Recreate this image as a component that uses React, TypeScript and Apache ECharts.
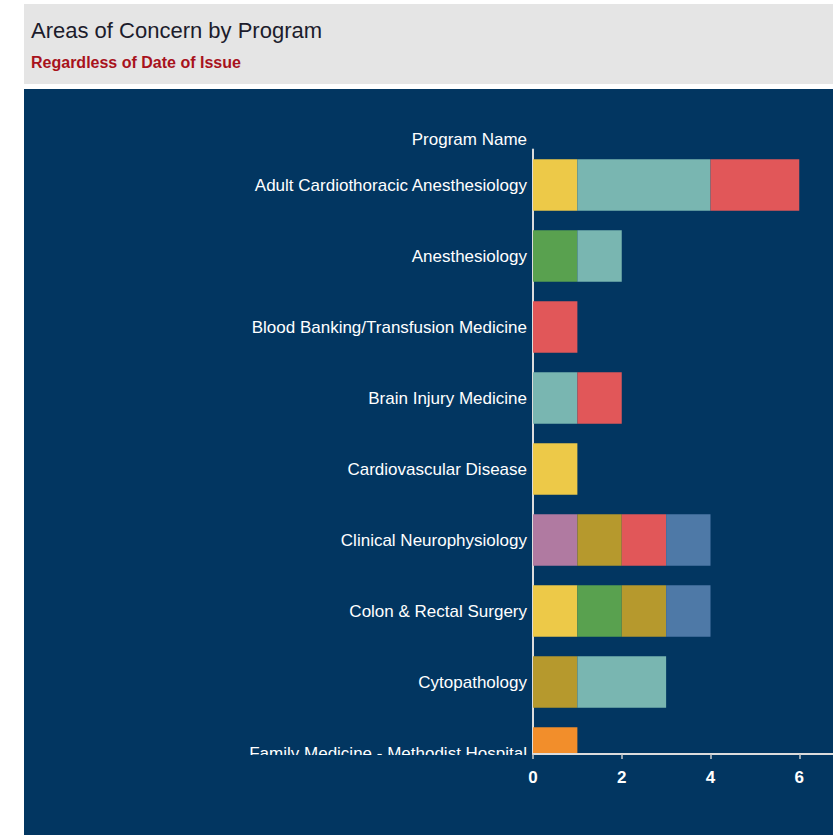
import React, { useEffect, useRef } from "react";
import * as echarts from "echarts";

const categories = [
  "Adult Cardiothoracic Anesthesiology",
  "Anesthesiology",
  "Blood Banking/Transfusion Medicine",
  "Brain Injury Medicine",
  "Cardiovascular Disease",
  "Clinical Neurophysiology",
  "Colon & Rectal Surgery",
  "Cytopathology",
  "Family Medicine - Methodist Hospital",
];

const titleText = "Areas of Concern by Program";
const subtitleText = "Regardless of Date of Issue";
const yAxisTitle = "Program Name";

// stacked segments, one array per area-of-concern colour
const concernYellow = [1, null, null, null, 1, null, 1, null, null];
const concernPink = [null, null, null, null, null, 1, null, null, null];
const concernGreen = [null, 1, null, null, null, null, 1, null, null];
const concernOlive = [null, null, null, null, null, 1, 1, 1, null];
const concernTeal = [3, 1, null, 1, null, null, null, 2, null];
const concernRed = [2, null, 1, 1, null, 1, null, null, null];
const concernBlue = [null, null, null, null, null, 1, 1, null, null];
const concernOrange = [null, null, null, null, null, null, null, null, 1];

const seriesList = [
  { name: "Concern A", color: "#edc948", data: concernYellow },
  { name: "Concern B", color: "#b07aa1", data: concernPink },
  { name: "Concern C", color: "#59a14f", data: concernGreen },
  { name: "Concern D", color: "#b6992d", data: concernOlive },
  { name: "Concern E", color: "#79b6b1", data: concernTeal },
  { name: "Concern F", color: "#e15759", data: concernRed },
  { name: "Concern G", color: "#4e79a7", data: concernBlue },
  { name: "Concern H", color: "#f28e2b", data: concernOrange },
];

const xTicks = [0, 2, 4, 6, 8];

const NAVY = "#023661";
const FONT = "'Liberation Sans', Arial, sans-serif";

export default function App() {
  const ref = useRef<HTMLDivElement>(null);

  useEffect(() => {
    if (!ref.current) return;
    const chart = echarts.init(ref.current, null, { renderer: "svg" });
    const xMin = xTicks[0];
    const xMax = xTicks[xTicks.length - 1];
    const xStep = xTicks[1] - xTicks[0];

    chart.setOption({
      animation: false,
      backgroundColor: "#ffffff",
      title: [
        {
          text: titleText,
          left: 31,
          top: 19,
          padding: 0,
          textStyle: { fontFamily: FONT, fontSize: 22, fontWeight: "normal", color: "#1c1c2c" },
        },
        {
          text: subtitleText,
          left: 31,
          top: 54,
          padding: 0,
          textStyle: { fontFamily: FONT, fontSize: 16, fontWeight: "bold", color: "#a8121c" },
        },
      ],
      graphic: [
        { type: "rect", z: -10, shape: { x: 24, y: 4, width: 809, height: 80 }, style: { fill: "#e5e5e5" } },
        { type: "rect", z: -10, shape: { x: 24, y: 89, width: 809, height: 746 }, style: { fill: NAVY } },
        { type: "rect", z: 50, shape: { x: 24, y: 755, width: 809, height: 80 }, style: { fill: NAVY } },
        {
          type: "text",
          z: 55,
          x: 527,
          y: 139,
          style: {
            text: yAxisTitle,
            fill: "#ffffff",
            font: `17px ${FONT}`,
            align: "right",
            verticalAlign: "middle",
          },
        },
      ],
      grid: [
        { left: 533, top: 149.5, width: 355, height: 639, containLabel: false, outerBoundsMode: "none" },
        { left: 533, top: 700, width: 355, height: 54, containLabel: false, outerBoundsMode: "none" },
      ],
      xAxis: [
        { type: "value", gridIndex: 0, min: xMin, max: xMax, interval: xStep, show: false },
        {
          type: "value",
          gridIndex: 1,
          min: xMin,
          max: xMax,
          interval: xStep,
          z: 60,
          axisLine: { show: true, lineStyle: { color: "#dcdcdc", width: 2 } },
          axisTick: { show: true, length: 5, lineStyle: { color: "#c8c8c8", width: 1.5 } },
          splitLine: { show: false },
          axisLabel: {
            color: "#ffffff",
            fontFamily: FONT,
            fontSize: 17,
            fontWeight: "bold",
            margin: 15,
            showMaxLabel: false,
          },
        },
      ],
      yAxis: [
        {
          type: "category",
          gridIndex: 0,
          data: categories,
          inverse: true,
          axisLine: { show: true, lineStyle: { color: "#dcdcdc", width: 2 } },
          axisTick: { show: false },
          splitLine: { show: false },
          axisLabel: { color: "#ffffff", fontFamily: FONT, fontSize: 17, margin: 6 },
        },
        { type: "value", gridIndex: 1, show: false },
      ],
      series: seriesList.map((s) => ({
        name: s.name,
        type: "bar",
        stack: "total",
        xAxisIndex: 0,
        yAxisIndex: 0,
        barCategoryGap: "27.5%",
        itemStyle: { color: s.color },
        data: s.data,
      })),
    });

    return () => chart.dispose();
  }, []);

  return (
    <div
      ref={ref}
      style={{ position: "absolute", left: 0, top: 0, width: 833, height: 835, background: "#ffffff" }}
    />
  );
}
